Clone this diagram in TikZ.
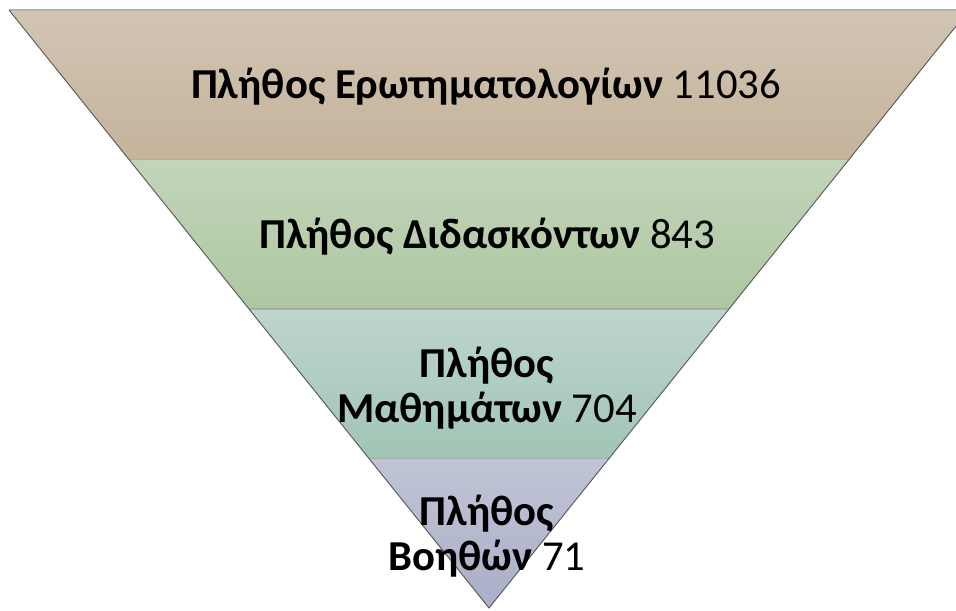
\documentclass[tikz,border=0pt]{standalone}
\usepackage{fontspec}
\setmainfont{Carlito}
\definecolor{tanTop}{HTML}{D1C5B3}
\definecolor{tanBot}{HTML}{C5B39B}
\definecolor{greenTop}{HTML}{C3D5B9}
\definecolor{greenBot}{HTML}{ADC7A1}
\definecolor{tealTop}{HTML}{BED5CD}
\definecolor{tealBot}{HTML}{A0C5B5}
\definecolor{lilacTop}{HTML}{C0C4D6}
\definecolor{lilacBot}{HTML}{A9AFC7}
\begin{document}
\begin{tikzpicture}[x=0.75pt,y=-0.75pt,
	seam/.style={draw=black!40,line width=1.2pt,opacity=0.6},
	rim/.style={draw=black!65,line width=0.7pt},
	lbl/.style={align=center,font=\fontsize{32}{34}\selectfont}]
	\useasboundingbox (0,0) rectangle (956,610);
	\clip (0,0) rectangle (956,610);
	% corners of the funnel
	\coordinate (tl) at (9,10);
	\coordinate (tr) at (969,10);
	\coordinate (l1) at (129,159.5);
	\coordinate (r1) at (849,159.5);
	\coordinate (l2) at (249,309);
	\coordinate (r2) at (729,309);
	\coordinate (l3) at (369,458.5);
	\coordinate (r3) at (609,458.5);
	\coordinate (apex) at (489,608);
	% bands
	\shade[top color=tanTop,bottom color=tanBot] (tl)--(tr)--(r1)--(l1)--cycle;
	\shade[top color=greenTop,bottom color=greenBot] (l1)--(r1)--(r2)--(l2)--cycle;
	\shade[top color=tealTop,bottom color=tealBot] (l2)--(r2)--(r3)--(l3)--cycle;
	\shade[top color=lilacTop,bottom color=lilacBot] (l3)--(r3)--(apex)--cycle;
	\draw[seam] (l1)--(r1);
	\draw[seam] (l2)--(r2);
	\draw[seam] (l3)--(r3);
	\draw[draw=black!30,line width=1.5pt] (tl)--(tr);
	\draw[rim] (tl)--(apex)--(tr);
	% labels
	\node[lbl] (forms) at (486,87) {\textbf{Πλήθος Ερωτηματολογίων} 11036};
	\node[lbl] (teachers) at (487,237) {\textbf{Πλήθος Διδασκόντων} 843};
	\node[lbl] (courses) at (487,388) {\textbf{Πλήθος}\\\textbf{Μαθημάτων} 704};
	\node[lbl] (assistants) at (487,536) {\textbf{Πλήθος}\\\textbf{Βοηθών} 71};
\end{tikzpicture}
\end{document}
